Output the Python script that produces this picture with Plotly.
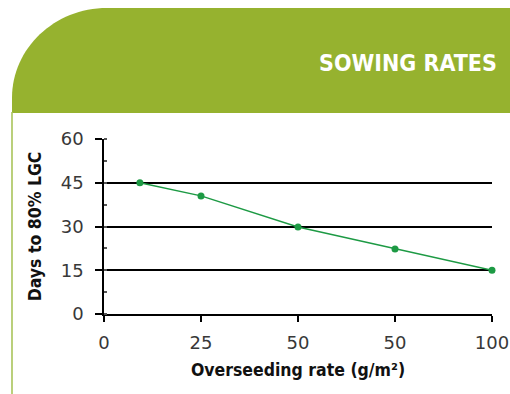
import plotly.graph_objects as go

# ---- data ----
x_pos = [0.37, 1, 2, 3, 4]
days = [45, 40.5, 29.8, 22.3, 15]
tick_vals = [0, 1, 2, 3, 4]
tick_text = ["0", "25", "50", "50", "100"]
y_ticks = [0, 15, 30, 45, 60]

W, H = 510, 394
L, R, T, B = 104, 18, 139, 80
pw, ph = W - L - R, H - T - B

def px(xp):
    return (xp - L) / pw

def py(yp):
    return (H - B - yp) / ph

GREEN = "#96b22f"
LINE = "#1d9a44"

fig = go.Figure()
fig.add_trace(go.Scatter(
    x=x_pos, y=days, mode="lines+markers",
    line=dict(color=LINE, width=1.5),
    marker=dict(color=LINE, size=7),
    cliponaxis=False, showlegend=False, hoverinfo="skip",
))

# header shape with rounded top-left corner
x0, x1, y0, y1 = 12, 512, 8, 113
rx, ry = 95, 90
k = 0.5523
path = (
    f"M {px(x0)} {py(y1)} "
    f"L {px(x0)} {py(y0 + ry)} "
    f"C {px(x0)} {py(y0 + ry - k * ry)} {px(x0 + rx - k * rx)} {py(y0)} {px(x0 + rx)} {py(y0)} "
    f"L {px(x1)} {py(y0)} L {px(x1)} {py(y1)} Z"
)
shapes = [
    dict(type="path", path=path, xref="paper", yref="paper",
         fillcolor=GREEN, line=dict(width=0), layer="below"),
    dict(type="line", xref="paper", yref="paper",
         x0=px(12), x1=px(12), y0=py(112), y1=py(396),
         line=dict(color="#a9c45a", width=1.6)),
]

fig.update_layout(
    width=W, height=H,
    margin=dict(l=L, r=R, t=T, b=B),
    paper_bgcolor="white", plot_bgcolor="white",
    shapes=shapes,
    font=dict(family="DejaVu Sans", color="#333333"),
    annotations=[dict(
        text="SOWING RATES", xref="paper", yref="paper",
        x=px(499), y=py(63), xanchor="right", yanchor="middle",
        showarrow=False,
        font=dict(family="DejaVu Sans Condensed", size=23, color="white", weight="bold"),
    )],
    xaxis=dict(
        range=[0, 4], tickmode="array", tickvals=tick_vals, ticktext=tick_text,
        showgrid=False, zeroline=False, automargin=False,
        showline=True, linecolor="black", linewidth=1.5,
        ticks="outside", ticklen=6, tickwidth=1.5, tickcolor="black",
        tickfont=dict(size=18, color="#383838"),
        ticklabelstandoff=6,
        title=dict(text="Overseeding rate (g/m²)", standoff=11,
                   font=dict(family="DejaVu Sans Condensed", size=17.5, color="#111111", weight="bold")),
        fixedrange=True,
    ),
    yaxis=dict(
        range=[0, 60], tickvals=y_ticks, automargin=False,
        showgrid=True, gridcolor="black", gridwidth=1.5,
        zeroline=False,
        showline=True, linecolor="black", linewidth=1.5,
        ticks="outside", ticklen=7, tickwidth=1.5, tickcolor="black",
        minor=dict(dtick=7.5, ticks="inside", ticklen=3, tickcolor="#555555", showgrid=False),
        tickfont=dict(size=18, color="#383838"),
        ticklabelstandoff=8,
        title=dict(text="Days to 80% LGC", standoff=15,
                   font=dict(family="DejaVu Sans Condensed", size=17.5, color="#111111", weight="bold")),
        fixedrange=True,
    ),
)

fig.write_html(
    "out.html",
    config={"displayModeBar": False},
    post_script="document.body.style.margin='0';document.body.style.overflow='hidden';",
)
